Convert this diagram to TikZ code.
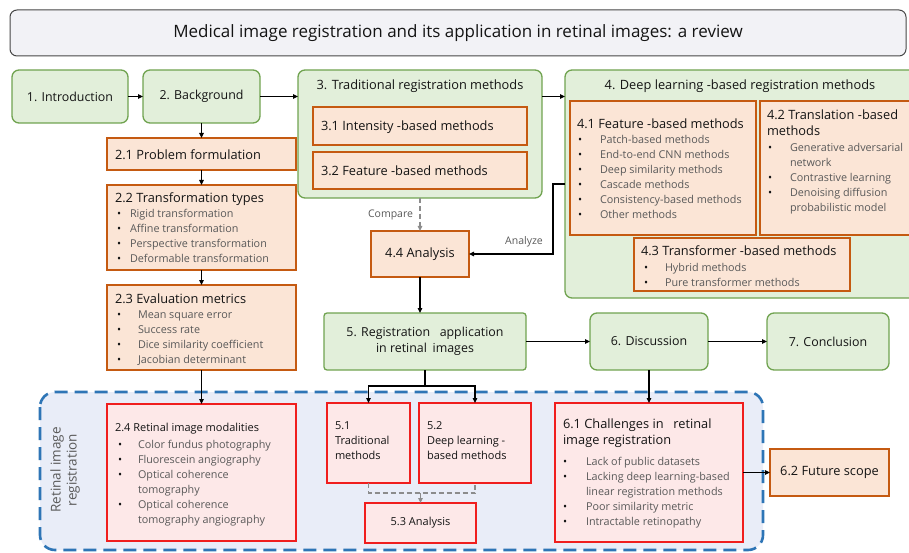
\documentclass[tikz,border=0pt]{standalone}
\usepackage{fontspec}
\setmainfont{Open Sans}
\usepackage{array}
\usetikzlibrary{arrows.meta,fit,calc}
\definecolor{gfill}{RGB}{226,239,218}
\definecolor{gdraw}{RGB}{112,163,80}
\definecolor{ofill}{RGB}{251,229,214}
\definecolor{odraw}{RGB}{197,90,17}
\definecolor{rfill}{RGB}{253,232,232}
\definecolor{rdraw}{RGB}{240,30,30}
\definecolor{bfill}{RGB}{233,237,248}
\definecolor{bdraw}{RGB}{46,117,182}
\definecolor{tfill}{RGB}{242,242,246}
\definecolor{tdraw}{RGB}{70,70,70}
\definecolor{txtgrey}{RGB}{89,89,89}
\definecolor{txtmain}{RGB}{20,20,20}
\newcommand\blst[2]{\begin{tabular}[t]{@{}p{#1pt}@{}>{\color{txtgrey}}l@{}}#2\end{tabular}}
\begin{document}
\begin{tikzpicture}[x=1pt,y=-1pt,
  every node/.style={inner sep=0pt,outer sep=0pt,text=txtmain},
  greenbox/.style={draw=gdraw,fill=gfill,line width=1.3pt,rounded corners=7pt},
  greensq/.style={draw=gdraw,fill=gfill,line width=1.3pt,rounded corners=3pt},
  orangebox/.style={draw=odraw,fill=ofill,line width=1.3pt},
  redbox/.style={draw=rdraw,fill=rfill,line width=1.3pt},
  arr/.style={draw=black,line width=1.2pt,-{Triangle[length=5pt,width=4.5pt]}},
  dgrey/.style={draw=gray!90,line width=1.3pt,dash pattern=on 5pt off 3pt},
  dgreyarr/.style={dgrey,-{Triangle[length=5pt,width=4.5pt]}},
  fbig/.style={font=\fontsize{12.8}{16}\selectfont},
  fmid/.style={font=\fontsize{12.4}{15.5}\selectfont},
  fsml/.style={font=\fontsize{10.8}{15}\selectfont},
  fsub/.style={font=\fontsize{11}{15}\selectfont},
  flbl/.style={font=\fontsize{10.5}{13}\selectfont,text=txtgrey}]
\useasboundingbox (0,0) rectangle (909,553);
% region
\draw[fill=bfill,draw=bdraw,line width=2.6pt,dash pattern=on 13pt off 7pt,rounded corners=15pt] (40,392) rectangle (763,550);
\node[text=txtgrey,font=\fontsize{13.5}{16}\selectfont,rotate=90,align=center] (rlab) at (65,470) {Retinal image\\registration};
% title
\node[draw=tdraw,fill=tfill,line width=1pt,rounded corners=7pt,fit={(10,10) (906,56)}] (title) {};
\node[font=\fontsize{17}{20}\selectfont] (titletxt) at (title.center) {Medical image registration and its application in retinal images: a review};
% top row
\node[greenbox,fit={(12,70) (128,123)}] (intro) {};
\node[fmid] at (intro.center) {1. Introduction};
\node[greenbox,fit={(143,70) (260,123)}] (back) {};
\node[fmid] at (back.center) {2. Background};
\node[greenbox,fit={(298,70) (542,198)}] (trad) {};
\node[fbig] at (420,86) {3. Traditional registration methods};
\node[orangebox,fit={(313,107) (527,145)}] (t31) {};
\node[fbig,anchor=west] at (321,127) {3.1 Intensity -based methods};
\node[orangebox,fit={(313,152) (527,189)}] (t32) {};
\node[fbig,anchor=west] at (321,171) {3.2 Feature -based methods};
\node[greenbox,fit={(565,70) (918,298)}] (dl) {};
\node[fbig] at (740,86) {4. Deep learning -based registration methods};
\node[orangebox,fit={(570,101) (756,235)}] (d41) {};
\node[fbig,anchor=west] at (577,124) {4.1 Feature -based methods};
\node[fsml,anchor=base west] at (578,144) {\blst{22}{\textbullet & Patch-based methods\\ \textbullet & End-to-end CNN methods\\ \textbullet & Deep similarity methods\\ \textbullet & Cascade methods\\ \textbullet & Consistency-based methods\\ \textbullet & Other methods}};
\node[orangebox,fit={(760,101) (918,235)}] (d42) {};
\node[fbig,anchor=west,align=left] at (767,123) {4.2 Translation -based\\methods};
\node[fsml,anchor=base west] at (768,152) {\blst{22}{\textbullet & Generative adversarial\\ & network\\ \textbullet & Contrastive learning\\ \textbullet & Denoising diffusion\\ & probabilistic model}};
\node[orangebox,fit={(634,238) (850,291)}] (d43) {};
\node[fbig,anchor=west] at (641,251) {4.3 Transformer -based methods};
\node[fsml,anchor=base west] at (644,271) {\blst{21}{\textbullet & Hybrid methods\\ \textbullet & Pure transformer methods}};
% left column
\node[orangebox,fit={(107,138) (296,170)}] (p21) {};
\node[fbig,anchor=west] at (115,155) {2.1 Problem formulation};
\node[orangebox,fit={(107,185) (296,270)}] (p22) {};
\node[fbig,anchor=west] at (115,199) {2.2 Transformation types};
\node[fsml,anchor=base west] at (117,218) {\blst{13}{\textbullet & Rigid transformation\\ \textbullet & Affine transformation\\ \textbullet & Perspective transformation\\ \textbullet & Deformable transformation}};
\node[orangebox,fit={(107,285) (296,370)}] (p23) {};
\node[fbig,anchor=west] at (115,299) {2.3 Evaluation metrics};
\node[fsml,anchor=base west] at (117,318) {\blst{21}{\textbullet & Mean square error\\ \textbullet & Success rate\\ \textbullet & Dice similarity coefficient\\ \textbullet & Jacobian determinant}};
% analysis
\node[orangebox,fit={(371,231) (469,277)}] (ana) {};
\node[fbig] at (ana.center) {4.4 Analysis};
% middle row
\node[greensq,fit={(324,313) (526,370)}] (reg) {};
\node[fmid,align=center] at (reg.center) {5. Registration\hspace{0.5em} application\\in retinal\hspace{0.2em} images};
\node[greenbox,fit={(590,313) (708,370)}] (disc) {};
\node[fmid] at (disc.center) {6. Discussion};
\node[greenbox,fit={(767,313) (889,370)}] (conc) {};
\node[fmid] at (conc.center) {7. Conclusion};
% bottom
\node[redbox,fit={(107,404) (296,541)}] (mod) {};
\node[fsub,anchor=west] at (115,429) {2.4 Retinal image modalities};
\node[fsml,anchor=base west] at (118,448) {\blst{20}{\textbullet & Color fundus photography\\ \textbullet & Fluorescein angiography\\ \textbullet & Optical coherence\\ & tomography\\ \textbullet & Optical coherence\\ & tomography angiography}};
\node[redbox,fit={(327,403) (410,483)}] (t51) {};
\node[fsub,anchor=north west,align=left] at (335,422) {5.1\\Traditional\\methods};
\node[redbox,fit={(419,403) (531,483)}] (t52) {};
\node[fsub,anchor=north west,align=left] at (427,422) {5.2\\Deep learning -\\based methods};
\node[redbox,fit={(365,503) (476,543)}] (t53) {};
\node[fsub] at (t53.center) {5.3 Analysis};
\node[redbox,fit={(555,403) (743,542)}] (c61) {};
\node[fbig,anchor=north west,align=left] at (563,419) {6.1 Challenges in\hspace{0.5em} retinal\\image registration};
\node[fsml,anchor=base west] at (563,465) {\blst{23}{\textbullet & Lack of public datasets\\ \textbullet & Lacking deep learning-based\\ & linear registration methods\\ \textbullet & Poor similarity metric\\ \textbullet & Intractable retinopathy}};
\node[orangebox,fit={(770,449) (889,496)}] (fs) {};
\node[fbig] at (fs.center) {6.2 Future scope};
% connectors
\draw[arr] (intro.east) -- (back.west);
\draw[arr] (back.east) -- (trad.west |- back.east);
\draw[arr] (trad.east |- back.east) -- (dl.west |- back.east);
\draw[arr] (back.south) -- (p21.north);
\draw[arr] (p21.south) -- (p22.north);
\draw[arr] (p22.south) -- (p23.north);
\draw[arr] (p23.south) -- (mod.north);
\draw[dgreyarr] (trad.south) -- (ana.north);
\node[flbl,anchor=east] at (413,215) {Compare};
\coordinate (az) at (565,184);
\draw[arr] (az) -- ++(-12,0) |- (ana.east);
\node[flbl] at (524,242) {Analyze};
\draw[arr] (ana.south) -- (ana.south |- reg.north);
\draw[arr] (reg.east) -- (disc.west);
\draw[arr] (disc.east) -- (conc.west);
\coordinate (j) at (425,386);
\draw[arr] (reg.south) |- (t51.north |- j) -- (t51.north);
\draw[arr] (reg.south) |- (t52.north |- j) -- (t52.north);
\draw[dgrey] (t51.south) -- ++(0,10) -| (t52.south);
\draw[dgreyarr] (t53.north |- 0,493) -- (t53.north);
\draw[arr] (disc.south) -- (c61.north);
\draw[arr] (c61.east) -- (fs.west);
\end{tikzpicture}
\end{document}
